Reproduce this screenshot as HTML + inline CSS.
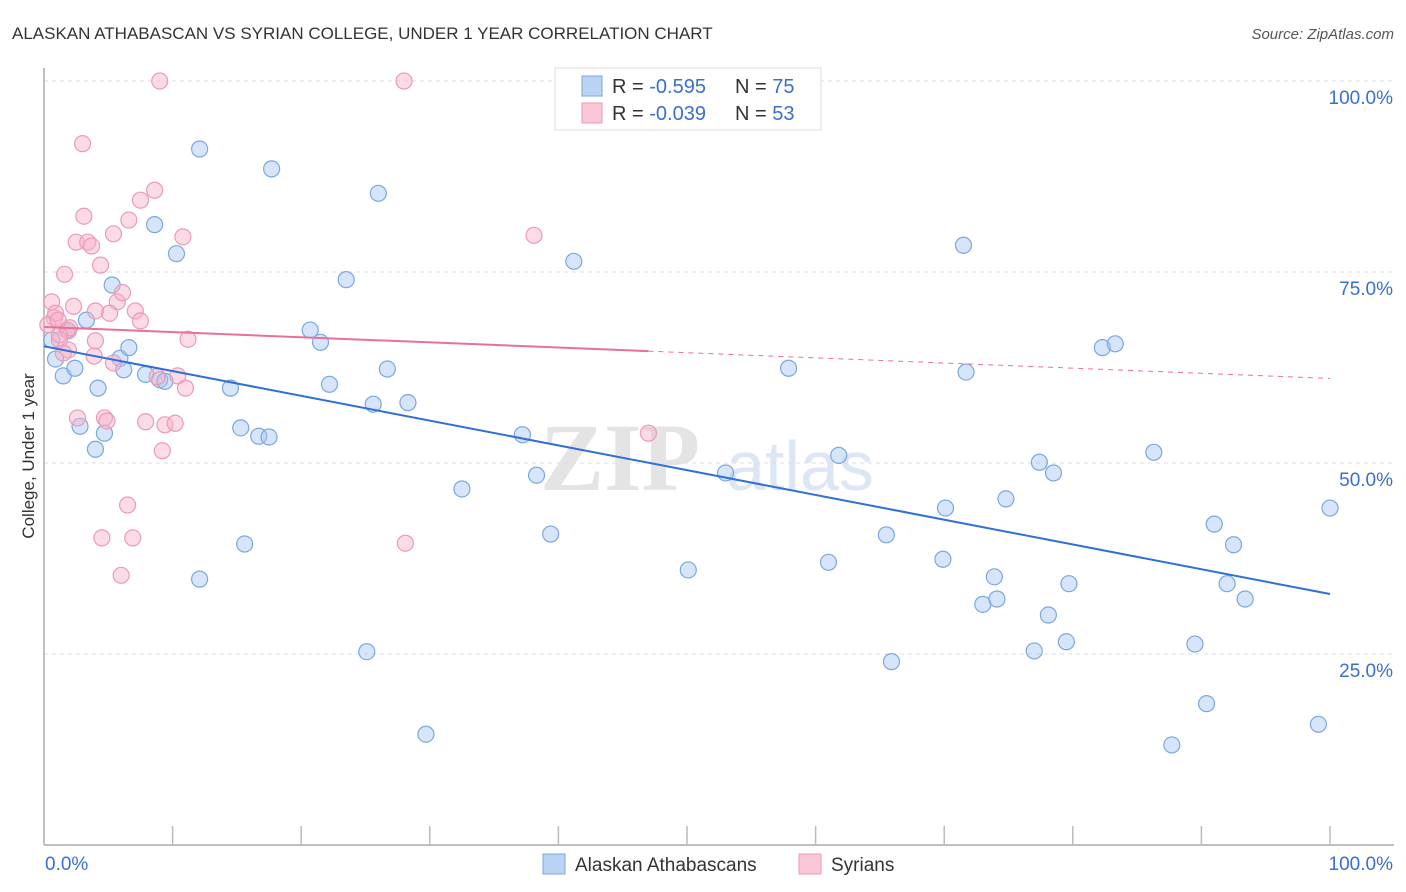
<!DOCTYPE html>
<html><head><meta charset="utf-8"><style>
body{margin:0;background:#fff;font-family:"Liberation Sans",sans-serif;}
svg{display:block}
</style></head><body>
<svg id="chart" width="1406" height="892">
<text x="12" y="39" font-size="17" fill="#333">ALASKAN ATHABASCAN VS SYRIAN COLLEGE, UNDER 1 YEAR CORRELATION CHART</text>
<text x="1394" y="39" font-size="15" fill="#555" text-anchor="end" font-style="italic">Source: ZipAtlas.com</text>
<text x="620" y="490" font-size="96" fill="#e4e4e4" font-family="Liberation Serif,serif" font-weight="bold" text-anchor="middle">ZIP</text>
<text x="800" y="490" font-size="70" fill="#dce6f4" text-anchor="middle">atlas</text>
<g id="grid"></g>
<g id="axes"></g>
<text transform="translate(34,456) rotate(-90)" font-size="17" fill="#333" text-anchor="middle">College, Under 1 year</text>
<g id="marks"></g>
<g id="trend"></g>
<g>
<rect x="555" y="68" width="266" height="62" fill="#fff" stroke="#ddd"/>
<rect x="582" y="76" width="20" height="20" fill="#b9d3f5" stroke="#7ba7e0"/>
<rect x="582" y="103" width="20" height="20" fill="#f9c7d6" stroke="#ec9ab7"/>
<text x="612" y="93" font-size="20" fill="#333">R = <tspan fill="#3a6fd0">-0.595</tspan><tspan x="735">N = </tspan><tspan fill="#3a6fd0">75</tspan></text>
<text x="612" y="120" font-size="20" fill="#333">R = <tspan fill="#3a6fd0">-0.039</tspan><tspan x="735">N = </tspan><tspan fill="#3a6fd0">53</tspan></text>
</g>
<g>
<rect x="543" y="854" width="22" height="20" fill="#b9d3f5" stroke="#7ba7e0"/>
<text x="575" y="871" font-size="19" fill="#333">Alaskan Athabascans</text>
<rect x="799" y="854" width="22" height="20" fill="#f9c7d6" stroke="#ec9ab7"/>
<text x="831" y="871" font-size="19" fill="#333">Syrians</text>
</g>
</svg>
<script>
const blueX=[0.9,1.5,2.4,2.8,3.3,4.0,4.2,4.7,5.3,5.9,6.2,6.6,7.9,8.6,9.0,9.4,10.3,12.1,12.1,14.5,15.3,15.6,16.7,17.5,17.7,20.7,21.5,22.2,23.5,25.1,25.6,26.0,26.7,28.3,29.7,32.5,37.2,38.3,39.4,41.2,50.1,53.0,57.9,61.0,61.8,65.5,65.9,69.9,70.1,71.5,71.7,73.0,73.9,74.1,74.8,77.0,77.4,78.1,78.5,79.5,79.7,82.3,83.3,86.3,87.7,89.5,90.4,91.0,92.0,92.5,93.4,99.1,100.0,1.8,0.6];
const blueY=[63.6,61.4,62.4,54.8,68.7,51.8,59.8,53.9,73.3,63.7,62.2,65.1,61.6,81.2,60.9,60.7,77.4,91.1,34.8,59.8,54.6,39.4,53.5,53.4,88.5,67.4,65.8,60.3,74.0,25.3,57.7,85.3,62.3,57.9,14.5,46.6,53.7,48.4,40.7,76.4,36.0,48.7,62.4,37.0,51.0,40.6,24.0,37.4,44.1,78.5,61.9,31.5,35.1,32.2,45.3,25.4,50.1,30.1,48.7,26.6,34.2,65.1,65.6,51.4,13.1,26.3,18.5,42.0,34.2,39.3,32.2,15.8,44.1,67.4,66.1];
const pinkX=[9.0,28.0,3.0,8.6,7.5,3.1,6.6,2.5,5.4,10.8,3.4,3.7,38.1,1.6,4.4,0.6,2.3,5.7,6.1,4.0,5.1,7.1,0.8,7.5,1.9,11.2,1.2,4.0,1.9,1.5,3.9,5.4,10.4,8.8,11.0,2.6,4.7,4.9,7.9,9.4,10.2,9.2,6.5,4.5,6.9,28.1,6.0,47.0,0.3,0.9,2.0,1.1,1.2];
const pinkY=[100,100,91.8,85.7,84.4,82.3,81.8,78.9,80.0,79.6,78.9,78.4,79.8,74.7,75.9,71.1,70.5,71.1,72.3,69.9,69.6,69.9,69.0,68.6,67.3,66.2,66.1,66.0,64.8,64.4,64.0,63.1,61.4,61.3,59.8,55.9,55.9,55.5,55.4,55.0,55.2,51.6,44.5,40.2,40.2,39.5,35.3,53.9,68.1,69.6,67.7,68.7,66.8];
const yTicks=[25,50,75,100];
const yTickLabels=["25.0%","50.0%","75.0%","100.0%"];
const xTicks=[0,10,20,30,40,50,60,70,80,90,100];

const NS="http://www.w3.org/2000/svg";
const X=v=>44+v*12.86, Y=v=>845-v*7.64;
function mk(tag,attrs,parent){const e=document.createElementNS(NS,tag);for(const k in attrs)e.setAttribute(k,attrs[k]);parent.appendChild(e);return e;}
const grid=document.getElementById('grid'),axes=document.getElementById('axes'),marks=document.getElementById('marks'),trend=document.getElementById('trend');
yTicks.forEach((t,i)=>{
  const l=mk('line',{x1:44,x2:1394,y1:Y(t),y2:Y(t),stroke:'#ddd','stroke-dasharray':'4,4'},grid);
  
  
  const tx=mk('text',{x:1393,y:Y(t)+23,'font-size':19,fill:'#3a6fd0','text-anchor':'end'},grid);
  tx.textContent=yTickLabels[i];
  
  
});
let a=mk('line',{x1:44,x2:44,y1:68,y2:845,stroke:'#aaa','stroke-width':1.5},axes);


a=mk('line',{x1:44,x2:1394,y1:845,y2:845,stroke:'#aaa','stroke-width':1.5},axes);


xTicks.forEach(t=>{
  const l=mk('line',{x1:X(t),x2:X(t),y1:826,y2:845,stroke:'#bbb','stroke-width':1.5},axes);
  
  
});
let tl=mk('text',{x:45,y:870,'font-size':19,fill:'#3a6fd0'},axes);tl.textContent='0.0%';


tl=mk('text',{x:1393,y:870,'font-size':19,fill:'#3a6fd0','text-anchor':'end'},axes);tl.textContent='100.0%';



function pts(xs,ys,fill,stroke,name){
  xs.forEach((x,i)=>{
    const c=mk('circle',{cx:X(x),cy:Y(ys[i]),r:8,fill:fill,stroke:stroke,'stroke-width':1.2},marks);
    
    
  });
}
pts(blueX,blueY,'rgba(164,198,242,0.45)','#7ba7e0','alaskan-point');
pts(pinkX,pinkY,'rgba(246,176,200,0.45)','#ec9ab7','syrian-point');

function reg(xs,ys){const n=xs.length;let sx=0,sy=0,sxx=0,sxy=0;for(let i=0;i<n;i++){sx+=xs[i];sy+=ys[i];sxx+=xs[i]*xs[i];sxy+=xs[i]*ys[i];}
  const m=(n*sxy-sx*sy)/(n*sxx-sx*sx);return {m:m,b:(sy-m*sx)/n};}
const rb=reg(blueX,blueY), rp=reg(pinkX,pinkY);
let t=mk('line',{x1:X(0),y1:Y(rb.b),x2:X(100),y2:Y(rb.b+100*rb.m),stroke:'#2f6fd6','stroke-width':2},trend);


const pmax=Math.max(...pinkX);
t=mk('line',{x1:X(0),y1:Y(rp.b),x2:X(pmax),y2:Y(rp.b+pmax*rp.m),stroke:'#e8709a','stroke-width':2},trend);


t=mk('line',{x1:X(pmax),y1:Y(rp.b+pmax*rp.m),x2:X(100),y2:Y(rp.b+100*rp.m),stroke:'#e8709a','stroke-width':1,'stroke-dasharray':'5,5'},trend);


</script>
</body></html>
